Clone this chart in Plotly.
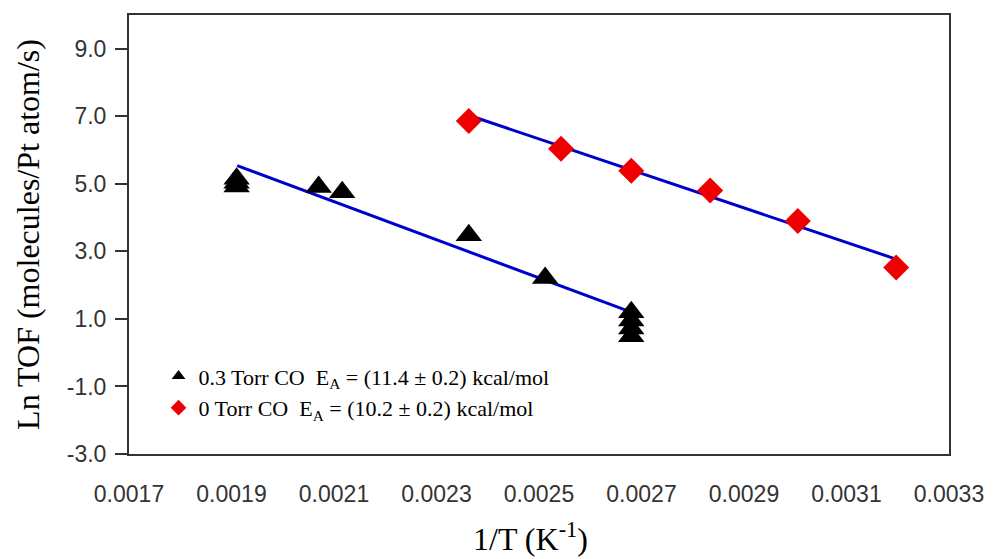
import plotly.graph_objects as go

# 0.3 Torr CO (black triangles)
co_x = [0.00191, 0.00191, 0.00191, 0.00207, 0.002116, 0.002363, 0.002512,
        0.00268, 0.00268, 0.00268, 0.00268]
co_y = [5.15, 5.03, 4.92, 4.91, 4.75, 3.48, 2.21, 1.2, 0.95, 0.72, 0.49]
# 0 Torr CO (red diamonds)
noco_x = [0.002363, 0.002543, 0.00268, 0.002834, 0.003005, 0.003197]
noco_y = [6.86, 6.04, 5.39, 4.8, 3.9, 2.52]
# fitted lines (end points)
fit_co_x = [0.001911, 0.00268]
fit_co_y = [5.54, 1.2]
fit_noco_x = [0.002363, 0.003195]
fit_noco_y = [7.03, 2.78]

x_ticks = [0.0017, 0.0019, 0.0021, 0.0023, 0.0025, 0.0027, 0.0029, 0.0031, 0.0033]
y_ticks = [-3.0, -1.0, 1.0, 3.0, 5.0, 7.0, 9.0]

fig = go.Figure()
fig.add_trace(go.Scatter(x=fit_co_x, y=fit_co_y, mode="lines",
                         line=dict(color="#0000CC", width=3), showlegend=False, hoverinfo="skip"))
fig.add_trace(go.Scatter(x=fit_noco_x, y=fit_noco_y, mode="lines",
                         line=dict(color="#0000CC", width=3), showlegend=False, hoverinfo="skip"))
fig.add_trace(go.Scatter(x=co_x, y=co_y, mode="markers",
                         marker=dict(symbol="triangle-up", size=23, color="black"),
                         name="0.3 Torr CO  E<sub>A</sub> = (11.4 ± 0.2) kcal/mol"))
fig.add_trace(go.Scatter(x=noco_x, y=noco_y, mode="markers",
                         marker=dict(symbol="diamond", size=20, color="#EE0000"),
                         name="0 Torr CO  E<sub>A</sub> = (10.2 ± 0.2) kcal/mol"))

fig.add_annotation(text="1/T (K<sup>-1</sup>)", xref="paper", yref="paper",
                   x=0.49, y=-0.19, xanchor="center", yanchor="middle",
                   showarrow=False,
                   font=dict(family="Liberation Serif", size=32, color="black"))

fig.update_layout(
    width=986, height=551,
    margin=dict(l=121, r=45, t=5, b=105),
    paper_bgcolor="white", plot_bgcolor="white",
    showlegend=True,
    legend=dict(x=0.036, y=0.225, xanchor="left", yanchor="top",
                bgcolor="rgba(0,0,0,0)",
                font=dict(family="Liberation Serif", size=22, color="black"),
                itemsizing="constant", tracegroupgap=0),
    xaxis=dict(range=[0.0017, 0.0033], tickvals=x_ticks,
               ticktext=[f"{v:.4f}" for v in x_ticks],
               showgrid=False, zeroline=False, ticks="",
               showline=True, linecolor="#333", linewidth=2, mirror=True,
               ticklabelstandoff=18,
               tickfont=dict(family="Liberation Sans", size=23, color="#333")),
    yaxis=dict(range=[-3, 10], tickvals=y_ticks,
               ticktext=[f"{v:.1f}" for v in y_ticks],
               showgrid=False, zeroline=False, ticks="outside", ticklen=12,
               tickcolor="#333", tickwidth=1.5,
               showline=True, linecolor="#333", linewidth=2, mirror=True,
               ticklabelstandoff=4,
               tickfont=dict(family="Liberation Sans", size=23, color="#333"),
               title=dict(text="Ln TOF (molecules/Pt atom/s)", standoff=18,
                          font=dict(family="Liberation Serif", size=32, color="black"))),
)

fig.write_html("out.html")
